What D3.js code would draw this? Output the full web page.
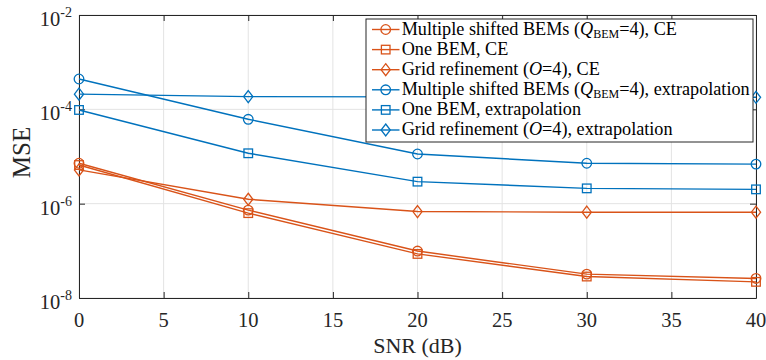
<!DOCTYPE html>
<html>
<head>
<meta charset="utf-8">
<script src="https://cdn.jsdelivr.net/npm/d3@7"></script>
<style>
  body { margin: 0; background: #fff; }
</style>
</head>
<body>
<script>
const snr = [0, 10, 20, 30, 40];
const xTicks = [0, 5, 10, 15, 20, 25, 30, 35, 40];
const yTicks = [-8, -6, -4, -2];

const msCE   = [7.2e-6, 7.3e-7, 9.9e-8, 3.2e-8, 2.6e-8];
const oneCE  = [6.6e-6, 6.3e-7, 8.6e-8, 2.85e-8, 2.2e-8];
const gridCE = [5.2e-6, 1.24e-6, 6.8e-7, 6.6e-7, 6.6e-7];
const msEx   = [4.4e-4, 6.15e-5, 1.13e-5, 7.2e-6, 6.9e-6];
const oneEx  = [9.7e-5, 1.17e-5, 2.93e-6, 2.11e-6, 2.01e-6];
const gridEx = [2.1e-4, 1.86e-4, 1.84e-4, 1.82e-4, 1.8e-4];

const orange = "#D95319", blue = "#0072BD";
const series = [
  { label: "ms",   tail: ", CE",            values: msCE,   color: orange, marker: "circle" },
  { label: "one",  tail: "One BEM, CE",     values: oneCE,  color: orange, marker: "square" },
  { label: "grid", tail: ", CE",            values: gridCE, color: orange, marker: "diamond" },
  { label: "ms",   tail: ", extrapolation", values: msEx,   color: blue,   marker: "circle" },
  { label: "one",  tail: "One BEM, extrapolation", values: oneEx, color: blue, marker: "square" },
  { label: "grid", tail: ", extrapolation", values: gridEx, color: blue,   marker: "diamond" }
];

const w = 766, h = 360;
const m = { left: 79, right: 10, top: 15, bottom: 62 };
const iw = w - m.left - m.right, ih = h - m.top - m.bottom;
const axisColor = "#262626";
const serif = '"Liberation Serif", "Times New Roman", serif';

const svg = d3.select("body").append("svg").attr("width", w).attr("height", h)
  .style("font-family", serif);
const g = svg.append("g").attr("transform", `translate(${m.left},${m.top})`);

const x = d3.scaleLinear().domain([0, 40]).range([0, iw]);
const y = d3.scaleLog().domain([1e-8, 1e-2]).range([ih, 0]);

// grid
g.append("g").selectAll("line").data(xTicks).enter().append("line")
  .attr("x1", d => x(d)).attr("x2", d => x(d)).attr("y1", 0).attr("y2", ih)
  .attr("stroke", "#e3e3e3").attr("stroke-width", 1);
g.append("g").selectAll("line").data(yTicks).enter().append("line")
  .attr("x1", 0).attr("x2", iw).attr("y1", d => y(Math.pow(10, d))).attr("y2", d => y(Math.pow(10, d)))
  .attr("stroke", "#e3e3e3").attr("stroke-width", 1);

// axes (ticks inward, box on)
const tk = 6;
const yVals = yTicks.map(d => Math.pow(10, d));
const axes = [
  g.append("g").attr("transform", `translate(0,${ih})`)
    .call(d3.axisBottom(x).tickValues(xTicks).tickSize(-tk).tickFormat("").tickSizeOuter(0)),
  g.append("g")
    .call(d3.axisTop(x).tickValues(xTicks).tickSize(-tk).tickFormat("").tickSizeOuter(0)),
  g.append("g")
    .call(d3.axisLeft(y).tickValues(yVals).tickSize(-tk).tickFormat("").tickSizeOuter(0)),
  g.append("g").attr("transform", `translate(${iw},0)`)
    .call(d3.axisRight(y).tickValues(yVals).tickSize(-tk).tickFormat("").tickSizeOuter(0))
];
axes.forEach(a => {
  a.selectAll("path").attr("stroke", axisColor).attr("stroke-width", 1);
  a.selectAll("line").attr("stroke", axisColor);
});

// x tick labels
g.append("g").selectAll("text").data(xTicks).enter().append("text")
  .attr("x", d => x(d)).attr("y", ih + 28.5)
  .attr("text-anchor", "middle").attr("font-size", 20.5).attr("fill", axisColor)
  .style("font-family", serif)
  .text(d => d);

// y tick labels with superscripts
const yl = g.append("g").selectAll("text").data(yTicks).enter().append("text")
  .attr("x", -7).attr("y", d => y(Math.pow(10, d)) + 11)
  .attr("text-anchor", "end").attr("font-size", 20.5).attr("fill", axisColor)
  .style("font-family", serif);
yl.append("tspan").text("10");
yl.append("tspan").attr("dy", -9).attr("font-size", 14).text(d => d);

svg.append("text").attr("x", m.left + iw / 2).attr("y", h - 7.5)
  .attr("text-anchor", "middle").attr("font-size", 22).attr("fill", axisColor)
  .style("font-family", serif).text("SNR (dB)");
svg.append("text").attr("transform", `translate(29.5,${m.top + ih / 2 - 4}) rotate(-90)`)
  .attr("text-anchor", "middle").attr("font-size", 25).attr("fill", axisColor)
  .style("font-family", serif).text("MSE");

// lines
const line = d3.line().x((d, i) => x(snr[i])).y(d => y(d));
const drawMarker = (sel, type, color) => {
  if (type === "circle") {
    sel.append("circle").attr("r", 4.8).attr("fill", "none").attr("stroke", color).attr("stroke-width", 1.3);
  } else if (type === "square") {
    sel.append("rect").attr("x", -4.3).attr("y", -4.3).attr("width", 8.6).attr("height", 8.6)
      .attr("fill", "none").attr("stroke", color).attr("stroke-width", 1.3);
  } else {
    sel.append("path").attr("d", "M0,-6L4.6,0L0,6L-4.6,0Z")
      .attr("fill", "none").attr("stroke", color).attr("stroke-width", 1.3);
  }
};
svg.append("defs").append("clipPath").attr("id", "plotclip")
  .append("rect").attr("x", -8).attr("y", -8).attr("width", iw + 16).attr("height", ih + 16);
const plot = g.append("g").attr("clip-path", "url(#plotclip)");
series.forEach(s => {
  plot.append("path").datum(s.values).attr("d", line)
    .attr("fill", "none").attr("stroke", s.color).attr("stroke-width", 1.4);
  plot.append("g").selectAll("g").data(s.values).enter().append("g")
    .attr("transform", (d, i) => `translate(${x(snr[i])},${y(d)})`)
    .each(function() { drawMarker(d3.select(this), s.marker, s.color); });
});

// legend
const lg = svg.append("g").attr("transform", "translate(366,19)");
lg.append("rect").attr("width", 387).attr("height", 123)
  .attr("fill", "#fff").attr("stroke", axisColor).attr("stroke-width", 1);
series.forEach((s, i) => {
  const row = lg.append("g").attr("transform", `translate(0,${10.5 + i * 20.1})`);
  row.append("line").attr("x1", 6).attr("x2", 33.5).attr("stroke", s.color).attr("stroke-width", 1.4);
  const mk = row.append("g").attr("transform", "translate(19.7,0)");
  drawMarker(mk, s.marker, s.color);
  const t = row.append("text").attr("x", 35.7).attr("y", 5).attr("font-size", 18.2).attr("fill", "#000")
    .style("font-family", serif);
  if (s.label === "ms") {
    t.append("tspan").text("Multiple shifted BEMs (");
    t.append("tspan").attr("font-style", "italic").text("Q");
    t.append("tspan").attr("font-size", 12).attr("dy", 3).text("BEM");
    t.append("tspan").attr("dy", -3).text("=4)" + s.tail);
  } else if (s.label === "grid") {
    t.append("tspan").text("Grid refinement (");
    t.append("tspan").attr("font-style", "italic").text("O");
    t.append("tspan").text("=4)" + s.tail);
  } else {
    t.text(s.tail);
  }
});
</script>
</body>
</html>
